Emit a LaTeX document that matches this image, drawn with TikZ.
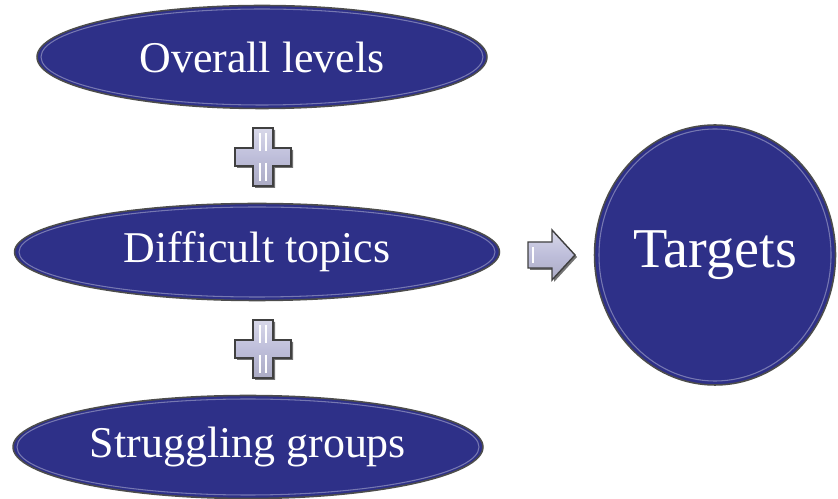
\documentclass[tikz,border=0pt]{standalone}
\usepackage{fontspec}
\setmainfont{Liberation Serif}
\usetikzlibrary{shapes.geometric}

\definecolor{deepblue}{RGB}{46,48,136}
\definecolor{lavender}{RGB}{190,190,218}

\tikzset{
  topic/.style={ellipse, draw=black!70, line width=0.9pt, fill=deepblue,
    text=white, inner sep=0pt, font=\fontsize{25}{28}\selectfont},
  rim/.style={draw=white, draw opacity=0.35, line width=0.6pt},
  sign/.style={draw=black!75, line width=0.8pt, top color=lavender!60!white,
    bottom color=lavender!90!black, middle color=lavender},
  pics/plussign/.style={code={
    \fill[black!55, shift={(2,2)}] (-10,-29) -- (10,-29) -- (10,-9) -- (28,-9)
      -- (28,9) -- (10,9) -- (10,29) -- (-10,29) -- (-10,9) -- (-28,9)
      -- (-28,-9) -- (-10,-9) -- cycle;
    \path[sign] (-10,-29) -- (10,-29) -- (10,-9) -- (28,-9)
      -- (28,9) -- (10,9) -- (10,29) -- (-10,29) -- (-10,9) -- (-28,9)
      -- (-28,-9) -- (-10,-9) -- cycle;
    \draw[white, line width=0.8pt] (-3,-24) -- (-3,-6) (3,-24) -- (3,-6)
      (-3,6) -- (-3,24) (3,6) -- (3,24);
  }}
}

\begin{document}
\begin{tikzpicture}[x=0.02cm, y=-0.02cm]
\useasboundingbox (0,0) rectangle (838,499);

\node[topic, minimum width=9cm, minimum height=2.06cm] (levels) at (262,57) {Overall levels};
\node[topic, minimum width=9.7cm, minimum height=1.94cm] (topics) at (257,252) {Difficult topics};
\node[topic, minimum width=9.4cm, minimum height=2.06cm] (groups) at (248,447) {Struggling groups};

\node[topic, minimum width=4.82cm, minimum height=5.2cm,
  font=\fontsize{32}{35}\selectfont] (targets) at (715,255) {Targets};

% light rim just inside each shape
\draw[rim] (levels.center) ellipse [x radius=221, y radius=48];
\draw[rim] (topics.center) ellipse [x radius=238, y radius=45];
\draw[rim] (groups.center) ellipse [x radius=231, y radius=48];
\draw[rim] (targets.center) ellipse [x radius=116, y radius=126];

\pic at (263,157) {plussign};
\pic at (263,349) {plussign};

% arrow towards the targets
\fill[black!55, shift={(2,2)}] (528,242) -- (552,242) -- (552,230) -- (575,255)
  -- (552,280) -- (552,268) -- (528,268) -- cycle;
\path[sign] (528,242) -- (552,242) -- (552,230) -- (575,255)
  -- (552,280) -- (552,268) -- (528,268) -- cycle;
\draw[white, line width=1pt] (533,247) -- (533,263);
\end{tikzpicture}
\end{document}
